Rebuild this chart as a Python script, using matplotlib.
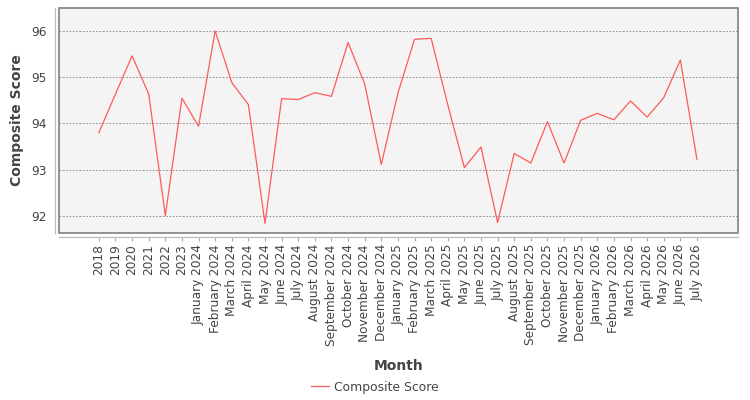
import numpy as np
import matplotlib.pyplot as plt
from matplotlib.patches import Rectangle

# Data
months = ['2018', '2019', '2020', '2021', '2022', '2023',
          'January 2024', 'February 2024', 'March 2024', 'April 2024', 'May 2024',
          'June 2024', 'July 2024', 'August 2024', 'September 2024', 'October 2024',
          'November 2024', 'December 2024', 'January 2025', 'February 2025',
          'March 2025', 'April 2025', 'May 2025', 'June 2025', 'July 2025',
          'August 2025', 'September 2025', 'October 2025', 'November 2025',
          'December 2025', 'January 2026', 'February 2026', 'March 2026',
          'April 2026', 'May 2026', 'June 2026', 'July 2026']
scores = [93.80, 94.64, 95.47, 94.64, 92.00, 94.55, 93.94, 96.01, 94.89, 94.41,
          91.83, 94.54, 94.52, 94.67, 94.59, 95.76, 94.86, 93.11, 94.66, 95.83,
          95.85, 94.41, 93.04, 93.49, 91.85, 93.35, 93.14, 94.04, 93.14, 94.07,
          94.22, 94.08, 94.49, 94.14, 94.56, 95.38, 93.22]

text_col = '#444444'

fig = plt.figure(figsize=(7.5, 4), dpi=100)
ax = fig.add_axes([59 / 750, 1 - 233 / 400, (738 - 59) / 750, (233 - 8) / 400])

x = np.arange(len(months))
ax.plot(x, scores, color='#ff5a5a', linewidth=0.9, label='Composite Score')

ax.set_xlim(-2.4, len(months) - 1 + 2.47)
ax.set_ylim(91.62, 96.51)
ax.set_facecolor('#f4f4f4')

# plot border
ax.add_patch(Rectangle((0, 0), 1, 1, transform=ax.transAxes, fill=False,
                       edgecolor='#808080', linewidth=1.2, zorder=5, clip_on=False))

ax.set_yticks([92, 93, 94, 95, 96])
ax.yaxis.grid(True, color='#808080', linestyle=(0, (2, 2)), linewidth=0.6)
ax.set_axisbelow(True)

ax.set_xticks(x)
ax.set_xticklabels(months)
ax.tick_params(axis='y', labelsize=8.7, labelcolor=text_col, length=0, pad=6)
ax.tick_params(axis='x', length=3, color='#aaaaaa', width=0.8, pad=2,
               labelrotation=90, labelsize=8.7, labelcolor=text_col)

for side in ['top', 'right']:
    ax.spines[side].set_visible(False)
for side in ['left', 'bottom']:
    ax.spines[side].set_position(('outward', 3))
    ax.spines[side].set_color('#bbbbbb')
    ax.spines[side].set_linewidth(0.9)

ax.set_xlabel('Month', fontsize=10, fontweight='bold', color=text_col, labelpad=10)
ax.set_ylabel('Composite Score', fontsize=10, fontweight='bold', color=text_col, labelpad=5)

fig.legend(loc='center', bbox_to_anchor=(0.5, 1 - 387 / 400), frameon=False,
           fontsize=8.9, labelcolor=text_col, handlelength=1.5, handletextpad=0.4)

fig.savefig('out.png', dpi=100)
